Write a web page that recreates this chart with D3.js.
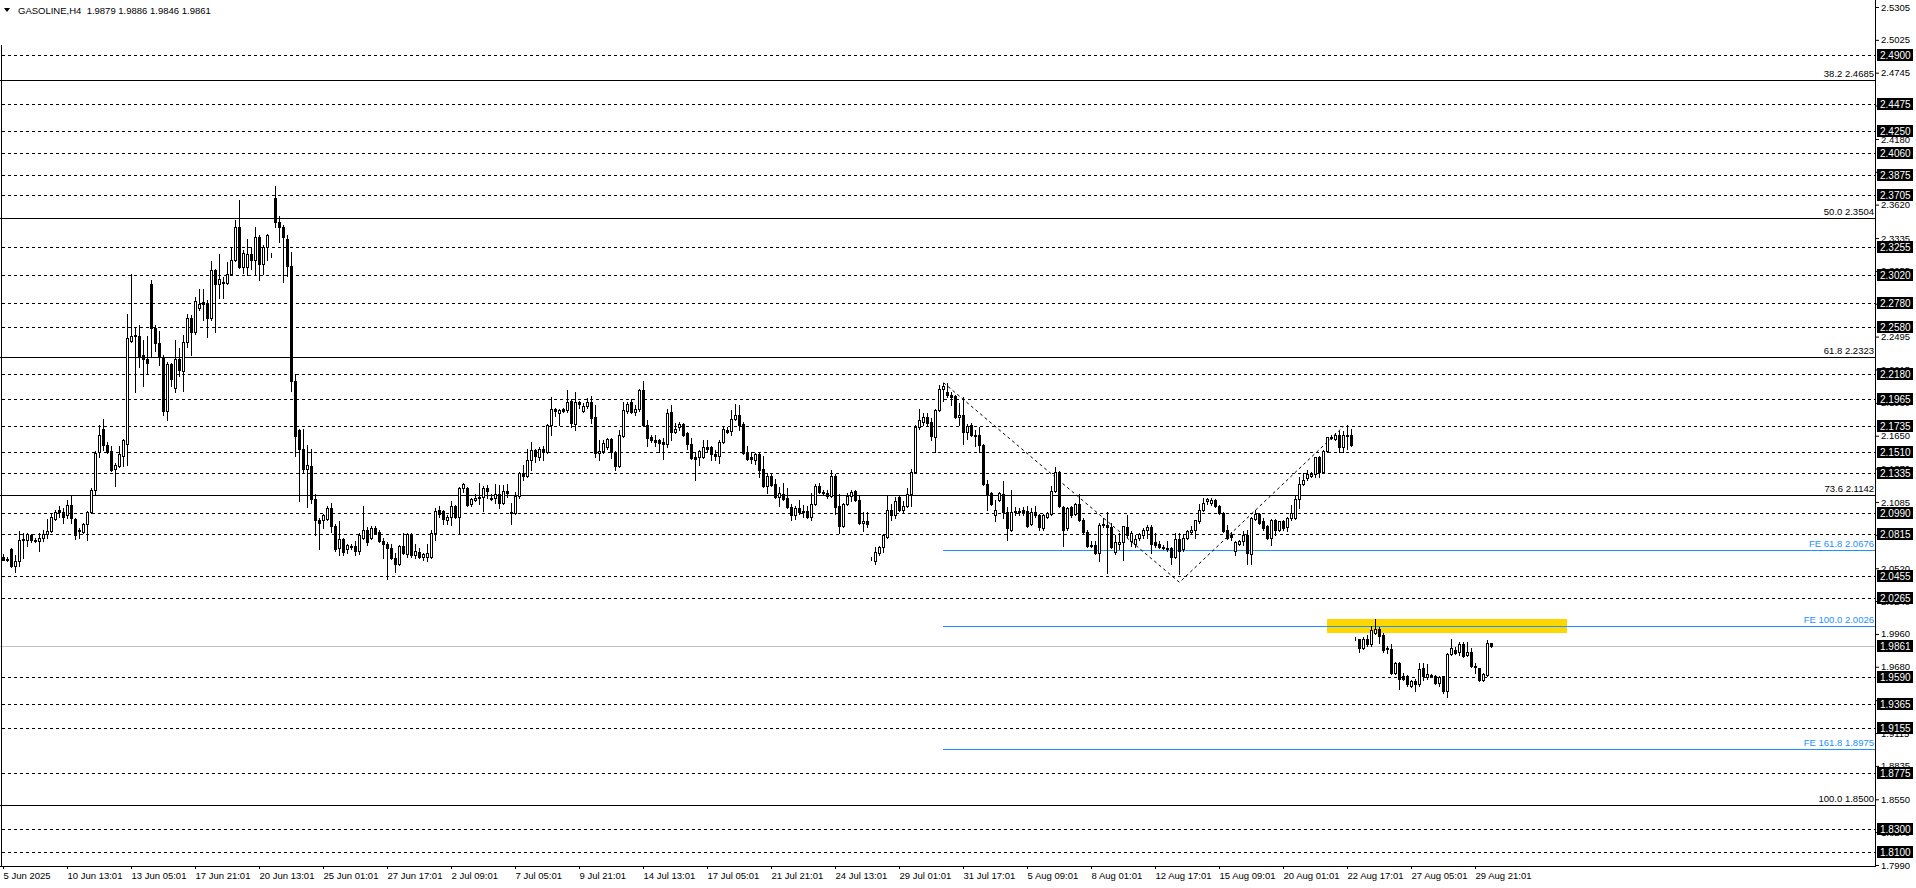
<!DOCTYPE html>
<html><head><meta charset="utf-8">
<script src="https://cdn.jsdelivr.net/npm/d3@7"></script>
<style>
body{margin:0;background:#fff;}
svg{display:block;}
</style>
</head><body>
<svg id="c" width="1916" height="888"></svg>
<script>
// ---------- DATA ----------
const opens=[2.062,2.059,2.068,2.054,2.058,2.076,2.076,2.080,2.075,2.075,
2.078,2.081,2.084,2.094,2.102,2.100,2.097,2.106,2.094,2.084,
2.083,2.090,2.100,2.119,2.151,2.171,2.157,2.152,2.137,2.139,
2.148,2.158,2.246,2.250,2.250,2.234,2.230,2.294,2.257,2.244,
2.232,2.186,2.226,2.206,2.230,2.220,2.245,2.265,2.253,2.274,
2.279,2.278,2.265,2.306,2.294,2.295,2.295,2.303,2.315,2.343,
2.309,2.309,2.320,2.315,2.334,2.311,2.326,2.318,2.368,2.347,
2.343,2.333,2.310,2.212,2.170,2.154,2.137,2.139,2.111,2.093,
2.093,2.094,2.103,2.088,2.069,2.077,2.068,2.071,2.071,2.067,
2.078,2.085,2.078,2.086,2.083,2.075,2.073,2.069,2.061,2.056,
2.071,2.064,2.081,2.063,2.066,2.062,2.062,2.062,2.082,2.102,
2.101,2.093,2.096,2.105,2.096,2.120,2.120,2.107,2.110,2.112,
2.113,2.120,2.112,2.112,2.115,2.108,2.118,2.100,2.099,2.114,
2.133,2.131,2.144,2.153,2.147,2.154,2.151,2.174,2.188,2.184,
2.188,2.187,2.195,2.175,2.194,2.186,2.190,2.194,2.181,2.150,
2.152,2.155,2.162,2.151,2.139,2.165,2.186,2.194,2.185,2.188,
2.204,2.174,2.164,2.161,2.161,2.160,2.158,2.185,2.168,2.172,
2.175,2.167,2.158,2.147,2.147,2.147,2.155,2.155,2.149,2.148,
2.160,2.170,2.169,2.179,2.183,2.175,2.150,2.147,2.144,2.149,
2.137,2.122,2.131,2.124,2.113,2.115,2.112,2.104,2.097,2.103,
2.100,2.101,2.096,2.107,2.122,2.117,2.116,2.114,2.131,2.105,
2.088,2.107,2.114,2.118,2.110,2.091,2.092,2.060,2.058,2.065,
2.070,2.079,2.102,2.097,2.113,2.102,2.105,2.115,2.134,2.172,
2.177,2.181,2.177,2.164,2.187,2.205,2.202,2.200,2.199,2.181,
2.183,2.168,2.174,2.166,2.166,2.157,2.124,2.116,2.097,2.110,
2.115,2.100,2.085,2.100,2.100,2.102,2.101,2.090,2.100,2.097,
2.086,2.096,2.098,2.118,2.134,2.104,2.086,2.104,2.098,2.107,
2.093,2.083,2.072,2.072,2.065,2.089,2.089,2.087,2.066,2.073,
2.074,2.087,2.075,2.073,2.078,2.080,2.085,2.087,2.074,2.073,
2.070,2.069,2.069,2.062,2.077,2.068,2.078,2.083,2.085,2.092,
2.102,2.109,2.108,2.110,2.105,2.099,2.085,2.080,2.067,2.073,
2.075,2.080,2.064,2.094,2.098,2.092,2.088,2.078,2.093,2.085,
2.092,2.087,2.095,2.095,2.111,2.124,2.129,2.131,2.132,2.147,
2.134,2.152,2.163,2.162,2.166,2.155,2.165,2.166,1.992,1.992,
1.984,1.992,1.987,1.997,2.000,1.995,1.983,1.983,1.963,1.971,
1.960,1.960,1.952,1.956,1.953,1.967,1.959,1.961,1.960,1.954,
1.960,1.947,1.979,1.982,1.981,1.987,1.978,1.981,1.969,1.967,
1.957,1.961,1.9879];
const highs=[2.064,2.062,2.069,2.063,2.084,2.082,2.082,2.081,2.078,2.082,
2.085,2.094,2.098,2.102,2.105,2.103,2.110,2.114,2.095,2.086,
2.091,2.101,2.120,2.152,2.174,2.179,2.160,2.156,2.142,2.156,
2.162,2.269,2.303,2.258,2.259,2.247,2.250,2.298,2.259,2.254,
2.234,2.228,2.227,2.247,2.240,2.251,2.269,2.268,2.283,2.290,
2.290,2.281,2.314,2.307,2.320,2.300,2.313,2.326,2.349,2.366,
2.323,2.333,2.326,2.343,2.336,2.328,2.337,2.321,2.378,2.352,
2.345,2.336,2.322,2.218,2.171,2.171,2.157,2.154,2.115,2.095,
2.098,2.105,2.108,2.090,2.092,2.078,2.073,2.073,2.075,2.082,
2.105,2.087,2.088,2.088,2.085,2.078,2.074,2.073,2.065,2.072,
2.082,2.082,2.082,2.073,2.069,2.065,2.073,2.085,2.103,2.105,
2.102,2.097,2.109,2.106,2.121,2.125,2.121,2.112,2.115,2.125,
2.122,2.123,2.115,2.124,2.123,2.123,2.124,2.108,2.117,2.134,
2.140,2.154,2.160,2.154,2.155,2.156,2.175,2.198,2.189,2.188,
2.189,2.204,2.196,2.202,2.195,2.193,2.197,2.199,2.191,2.161,
2.161,2.163,2.163,2.152,2.170,2.194,2.194,2.196,2.191,2.205,
2.212,2.178,2.166,2.166,2.162,2.163,2.188,2.191,2.176,2.177,
2.176,2.168,2.163,2.151,2.153,2.161,2.161,2.156,2.153,2.161,
2.173,2.172,2.187,2.192,2.191,2.177,2.156,2.151,2.150,2.150,
2.148,2.133,2.132,2.128,2.121,2.125,2.120,2.107,2.105,2.110,
2.106,2.105,2.116,2.124,2.125,2.119,2.119,2.136,2.132,2.115,
2.108,2.116,2.119,2.119,2.114,2.100,2.100,2.062,2.070,2.071,
2.081,2.114,2.107,2.113,2.114,2.109,2.120,2.137,2.174,2.188,
2.184,2.184,2.180,2.188,2.208,2.210,2.210,2.202,2.200,2.193,
2.198,2.175,2.176,2.170,2.172,2.158,2.127,2.117,2.110,2.117,
2.126,2.104,2.119,2.104,2.103,2.104,2.105,2.103,2.105,2.098,
2.098,2.100,2.122,2.138,2.135,2.105,2.104,2.105,2.108,2.115,
2.095,2.085,2.075,2.075,2.091,2.095,2.100,2.091,2.080,2.082,
2.088,2.097,2.084,2.080,2.082,2.086,2.089,2.089,2.082,2.075,
2.072,2.075,2.070,2.082,2.082,2.081,2.085,2.088,2.093,2.107,
2.112,2.112,2.112,2.111,2.106,2.100,2.089,2.083,2.075,2.076,
2.084,2.085,2.096,2.102,2.099,2.095,2.089,2.094,2.094,2.092,
2.093,2.096,2.106,2.114,2.130,2.133,2.136,2.134,2.147,2.148,
2.153,2.164,2.166,2.167,2.169,2.169,2.174,2.171,1.993,1.992,
1.993,1.995,2.003,2.009,2.002,1.997,1.986,1.987,1.972,1.972,
1.963,1.961,1.957,1.958,1.971,1.971,1.970,1.962,1.961,1.960,
1.960,1.980,1.992,1.985,1.989,1.989,1.989,1.984,1.971,1.967,
1.963,1.991,1.9886];
const lows=[2.059,2.058,2.053,2.049,2.054,2.061,2.071,2.074,2.074,2.067,
2.075,2.078,2.083,2.093,2.096,2.091,2.095,2.091,2.077,2.078,
2.082,2.076,2.099,2.115,2.147,2.153,2.150,2.135,2.122,2.138,
2.139,2.140,2.245,2.202,2.224,2.207,2.218,2.232,2.237,2.225,
2.183,2.178,2.207,2.202,2.216,2.203,2.241,2.234,2.252,2.272,
2.264,2.249,2.264,2.253,2.282,2.282,2.294,2.302,2.314,2.308,
2.304,2.302,2.307,2.303,2.298,2.303,2.315,2.317,2.343,2.330,
2.296,2.301,2.203,2.148,2.109,2.134,2.104,2.108,2.080,2.068,
2.086,2.093,2.083,2.067,2.063,2.063,2.065,2.068,2.063,2.064,
2.077,2.072,2.077,2.081,2.074,2.061,2.043,2.060,2.049,2.055,
2.064,2.062,2.062,2.061,2.061,2.059,2.058,2.061,2.076,2.096,
2.090,2.090,2.089,2.095,2.081,2.117,2.105,2.105,2.109,2.107,
2.101,2.112,2.110,2.108,2.103,2.107,2.113,2.090,2.098,2.112,
2.127,2.130,2.136,2.143,2.144,2.144,2.150,2.166,2.182,2.174,
2.185,2.185,2.172,2.170,2.189,2.185,2.189,2.176,2.147,2.144,
2.150,2.154,2.146,2.136,2.138,2.164,2.184,2.184,2.183,2.186,
2.173,2.156,2.160,2.156,2.151,2.145,2.155,2.161,2.167,2.170,
2.165,2.154,2.145,2.127,2.140,2.146,2.151,2.144,2.144,2.142,
2.159,2.167,2.166,2.178,2.170,2.149,2.144,2.142,2.141,2.130,
2.121,2.116,2.122,2.112,2.105,2.110,2.103,2.093,2.094,2.098,
2.096,2.095,2.093,2.106,2.116,2.115,2.112,2.113,2.098,2.082,
2.087,2.106,2.109,2.109,2.090,2.084,2.087,2.059,2.056,2.063,
2.066,2.078,2.093,2.095,2.101,2.099,2.104,2.105,2.133,2.171,
2.174,2.174,2.161,2.151,2.186,2.195,2.198,2.191,2.180,2.174,
2.158,2.162,2.165,2.156,2.151,2.123,2.102,2.106,2.092,2.109,
2.095,2.076,2.084,2.097,2.097,2.097,2.087,2.089,2.096,2.085,
2.085,2.095,2.097,2.117,2.104,2.071,2.085,2.096,2.097,2.092,
2.082,2.070,2.070,2.064,2.058,2.087,2.048,2.069,2.064,2.068,
2.059,2.079,2.071,2.070,2.076,2.078,2.078,2.065,2.070,2.069,
2.068,2.067,2.056,2.061,2.047,2.067,2.077,2.082,2.078,2.091,
2.101,2.107,2.106,2.104,2.098,2.083,2.077,2.076,2.063,2.072,
2.072,2.056,2.056,2.093,2.090,2.085,2.077,2.072,2.080,2.084,
2.085,2.084,2.093,2.094,2.103,2.123,2.127,2.130,2.130,2.130,
2.133,2.151,2.162,2.161,2.151,2.151,2.154,2.156,1.991,1.981,
1.983,1.986,1.986,1.996,1.988,1.981,1.980,1.962,1.962,1.949,
1.957,1.952,1.951,1.947,1.952,1.957,1.958,1.959,1.953,1.952,
1.946,1.942,1.978,1.979,1.978,1.976,1.977,1.968,1.963,1.956,
1.956,1.960,1.9846];
const closes=[2.059,2.060,2.054,2.058,2.076,2.077,2.081,2.076,2.076,2.078,
2.081,2.084,2.096,2.100,2.100,2.096,2.106,2.095,2.080,2.085,
2.090,2.100,2.119,2.150,2.166,2.157,2.151,2.136,2.140,2.149,
2.161,2.248,2.250,2.251,2.232,2.230,2.227,2.257,2.244,2.232,
2.186,2.226,2.213,2.230,2.221,2.245,2.265,2.253,2.280,2.277,
2.277,2.265,2.306,2.294,2.299,2.296,2.303,2.315,2.343,2.309,
2.321,2.320,2.315,2.334,2.311,2.326,2.336,2.318,2.347,2.343,
2.334,2.310,2.212,2.165,2.154,2.137,2.140,2.111,2.093,2.091,
2.097,2.103,2.088,2.068,2.077,2.066,2.072,2.070,2.067,2.080,
2.085,2.074,2.086,2.082,2.075,2.073,2.069,2.061,2.056,2.071,
2.065,2.081,2.063,2.067,2.062,2.064,2.065,2.082,2.101,2.098,
2.094,2.096,2.105,2.096,2.120,2.124,2.106,2.111,2.112,2.113,
2.120,2.118,2.111,2.115,2.108,2.118,2.116,2.099,2.114,2.133,
2.131,2.144,2.153,2.148,2.154,2.151,2.174,2.188,2.186,2.187,
2.186,2.194,2.176,2.194,2.192,2.190,2.194,2.180,2.150,2.152,
2.159,2.162,2.151,2.139,2.166,2.187,2.192,2.185,2.188,2.204,
2.174,2.163,2.161,2.160,2.159,2.158,2.184,2.168,2.171,2.175,
2.166,2.158,2.146,2.145,2.152,2.155,2.154,2.149,2.148,2.160,
2.171,2.168,2.179,2.183,2.174,2.150,2.145,2.145,2.149,2.136,
2.122,2.131,2.123,2.113,2.116,2.111,2.104,2.097,2.103,2.100,
2.101,2.096,2.107,2.122,2.117,2.116,2.114,2.131,2.104,2.088,
2.107,2.114,2.117,2.110,2.091,2.092,2.090,2.060,2.066,2.070,
2.080,2.102,2.097,2.109,2.102,2.105,2.115,2.134,2.172,2.178,
2.181,2.176,2.165,2.187,2.205,2.207,2.200,2.198,2.181,2.183,
2.168,2.173,2.166,2.165,2.157,2.124,2.115,2.107,2.102,2.116,
2.100,2.086,2.100,2.101,2.101,2.100,2.088,2.100,2.097,2.087,
2.097,2.099,2.118,2.134,2.105,2.085,2.103,2.097,2.107,2.093,
2.083,2.071,2.071,2.065,2.089,2.090,2.087,2.070,2.074,2.074,
2.088,2.080,2.082,2.077,2.081,2.085,2.087,2.073,2.072,2.070,
2.069,2.068,2.062,2.077,2.067,2.078,2.084,2.085,2.093,2.102,
2.108,2.111,2.110,2.105,2.099,2.084,2.078,2.079,2.074,2.075,
2.080,2.065,2.095,2.098,2.091,2.086,2.078,2.093,2.085,2.092,
2.086,2.095,2.099,2.111,2.124,2.127,2.132,2.132,2.147,2.134,
2.152,2.164,2.164,2.166,2.155,2.166,2.166,2.157,1.992,1.984,
1.992,1.987,1.999,2.000,1.994,1.982,1.984,1.963,1.971,1.958,
1.958,1.953,1.956,1.953,1.966,1.960,1.962,1.960,1.954,1.959,
1.947,1.979,1.984,1.980,1.987,1.977,1.981,1.969,1.968,1.957,
1.962,1.988,1.9861];

const timeLabelIdx=[0,16,32,48,64,80,96,112,128,144,160,176,192,208,224,240,256,272,288,304,320,336,352,368];
const timeLabels=["5 Jun 2025","10 Jun 13:01","13 Jun 05:01","17 Jun 21:01","20 Jun 13:01","25 Jun 01:01","27 Jun 17:01","2 Jul 09:01","7 Jul 05:01","9 Jul 21:01","14 Jul 13:01","17 Jul 05:01","21 Jul 21:01","24 Jul 13:01","29 Jul 01:01","31 Jul 17:01","5 Aug 09:01","8 Aug 01:01","12 Aug 17:01","15 Aug 09:01","20 Aug 01:01","22 Aug 17:01","27 Aug 05:01","29 Aug 21:01"];
const priceTicks=[2.5305,2.5025,2.4745,2.4465,2.4180,2.3900,2.3620,2.3335,2.3055,2.2775,2.2495,2.2215,2.1930,2.1650,2.1370,2.1085,2.0805,2.0520,2.0240,1.9960,1.9680,1.9395,1.9115,1.8835,1.8550,1.8270,1.7990];
const hLevels=[2.4900,2.4475,2.4250,2.4060,2.3875,2.3705,2.3255,2.3020,2.2780,2.2580,2.2180,2.1965,2.1735,2.1510,2.1335,2.0990,2.0815,2.0455,2.0265,1.9590,1.9365,1.9155,1.8775,1.8300,1.8100];
const fiboRatios=[38.2,50.0,61.8,73.6,100.0];
const fiboPrices=[2.4685,2.3504,2.2323,2.1142,1.8500];
const feRatios=[61.8,100.0,161.8];
const fePrices=[2.0676,2.0026,1.8975];
const feAnchorIdx=[235,294,335];
const feAnchorPrice=[2.2102,2.0400,2.1728];
const zoneIdx=[331,391];
const zonePrice=[1.9972,2.0089];
const bidPrice=1.9861;
const header="GASOLINE,H4  1.9879 1.9886 1.9846 1.9861";

// ---------- DRAW ----------
const FONT='"Liberation Sans", Arial, sans-serif';
const FS=9.5;
const svg=d3.select('#c');
const axisX=1875, axisY=866;
const n=Math.min(opens.length,highs.length,lows.length,closes.length);
const x=d3.scaleLinear().domain([0,372]).range([3,1491]);
const y=d3.scaleLinear().domain([1.7990,2.5305]).range([865,7]);
const py=p=>Math.round(y(p))+0.5;

svg.append('rect').attr('width',1916).attr('height',888).attr('fill','#fff');

// zone
svg.append('rect')
  .attr('x',x(zoneIdx[0])).attr('width',x(zoneIdx[1])-x(zoneIdx[0]))
  .attr('y',Math.round(y(zonePrice[1]))).attr('height',Math.round(y(zonePrice[0]))-Math.round(y(zonePrice[1])))
  .attr('fill','#FFD700');

// dashed horizontal levels
svg.append('g').selectAll('line').data(hLevels).join('line')
  .attr('x1',2).attr('x2',axisX).attr('y1',d=>py(d)).attr('y2',d=>py(d))
  .attr('stroke','#000').attr('stroke-width',1).attr('stroke-dasharray','3,3');

// fibo retracement lines
svg.append('g').selectAll('line').data(fiboPrices).join('line')
  .attr('x1',0).attr('x2',axisX).attr('y1',d=>py(d)).attr('y2',d=>py(d))
  .attr('stroke','#000').attr('stroke-width',1);
svg.append('g').selectAll('text').data(fiboPrices).join('text')
  .attr('x',axisX-1).attr('y',d=>Math.round(y(d))-3).attr('text-anchor','end')
  .attr('font-family',FONT).attr('font-size',FS).attr('fill','#000')
  .text((d,i)=>fiboRatios[i].toFixed(1)+' '+d.toFixed(4));

// bid line
svg.append('line').attr('x1',0).attr('x2',axisX).attr('y1',py(bidPrice)).attr('y2',py(bidPrice))
  .attr('stroke','#C0C0C0').attr('stroke-width',1);

// FE expansion lines
svg.append('g').selectAll('line').data(fePrices).join('line')
  .attr('x1',x(feAnchorIdx[0])).attr('x2',axisX).attr('y1',d=>py(d)).attr('y2',d=>py(d))
  .attr('stroke','#1E90FF').attr('stroke-width',1);
svg.append('g').selectAll('text').data(fePrices).join('text')
  .attr('x',axisX-1).attr('y',d=>Math.round(y(d))-3).attr('text-anchor','end')
  .attr('font-family',FONT).attr('font-size',FS).attr('fill','#1E90FF')
  .text((d,i)=>'FE '+feRatios[i].toFixed(1)+' '+d.toFixed(4));

// FE diagonal
const diag=d3.line().x(d=>x(d[0])+0.5).y(d=>y(d[1]));
svg.append('path').datum(feAnchorIdx.map((d,i)=>[d,feAnchorPrice[i]]))
  .attr('d',diag).attr('fill','none').attr('stroke','#000').attr('stroke-width',1).attr('stroke-dasharray','3,3');

// candles
const cg=svg.append('g');
const idx=d3.range(n);
cg.selectAll('line').data(idx).join('line')
  .attr('x1',i=>x(i)+0.5).attr('x2',i=>x(i)+0.5)
  .attr('y1',i=>Math.round(y(highs[i]))).attr('y2',i=>Math.round(y(lows[i]))+1)
  .attr('stroke','#000').attr('stroke-width',1);
cg.selectAll('rect').data(idx).join('rect')
  .attr('x',i=>x(i)-0.5).attr('width',2)
  .attr('y',i=>Math.round(y(Math.max(opens[i],closes[i])))+0.5)
  .attr('height',i=>Math.round(y(Math.min(opens[i],closes[i])))-Math.round(y(Math.max(opens[i],closes[i]))))
  .attr('fill',i=>closes[i]>=opens[i]?'#fff':'#000')
  .attr('stroke','#000').attr('stroke-width',1);

// frame lines
svg.append('line').attr('x1',axisX+0.5).attr('x2',axisX+0.5).attr('y1',0).attr('y2',axisY+1).attr('stroke','#000');
svg.append('line').attr('x1',0).attr('x2',axisX+1).attr('y1',axisY+0.5).attr('y2',axisY+0.5).attr('stroke','#000');
svg.append('line').attr('x1',1.5).attr('x2',1.5).attr('y1',45).attr('y2',axisY).attr('stroke','#000');

// right price axis
const ra=svg.append('g').attr('transform',`translate(${axisX+1},0)`)
  .call(d3.axisRight(y).tickValues(priceTicks).tickSize(3).tickPadding(2).tickFormat(d3.format('.4f')));
ra.select('.domain').remove();
ra.attr('font-family',FONT).attr('font-size',FS);
ra.selectAll('text').attr('fill','#000');
ra.selectAll('line').attr('stroke','#000');

// price label boxes
const boxes=hLevels.concat([bidPrice]);
const bg=svg.append('g');
bg.selectAll('rect').data(boxes).join('rect')
  .attr('x',axisX+2).attr('width',36).attr('y',d=>Math.round(y(d))-6).attr('height',12).attr('fill','#000');
bg.selectAll('text').data(boxes).join('text')
  .attr('x',axisX+5).attr('y',d=>Math.round(y(d))).attr('dy','0.35em')
  .attr('font-family',FONT).attr('font-size',10).attr('fill','#fff')
  .text(d=>d.toFixed(4));

// bottom time axis
const ba=svg.append('g').attr('transform',`translate(0,${axisY})`)
  .call(d3.axisBottom(x).tickValues(timeLabelIdx).tickSize(3).tickPadding(3).tickFormat((d,i)=>timeLabels[i]));
ba.select('.domain').remove();
ba.attr('font-family',FONT).attr('font-size',FS);
ba.selectAll('text').attr('text-anchor','start').attr('dx',0).attr('fill','#000');
ba.selectAll('line').attr('stroke','#000');

// header
svg.append('path').attr('d','M4,8 L10,8 L7,12 Z').attr('fill','#000');
svg.append('text').attr('x',18).attr('y',14).attr('font-family',FONT).attr('font-size',FS)
  .attr('fill','#000').style('white-space','pre').text(header);
</script>
</body></html>
